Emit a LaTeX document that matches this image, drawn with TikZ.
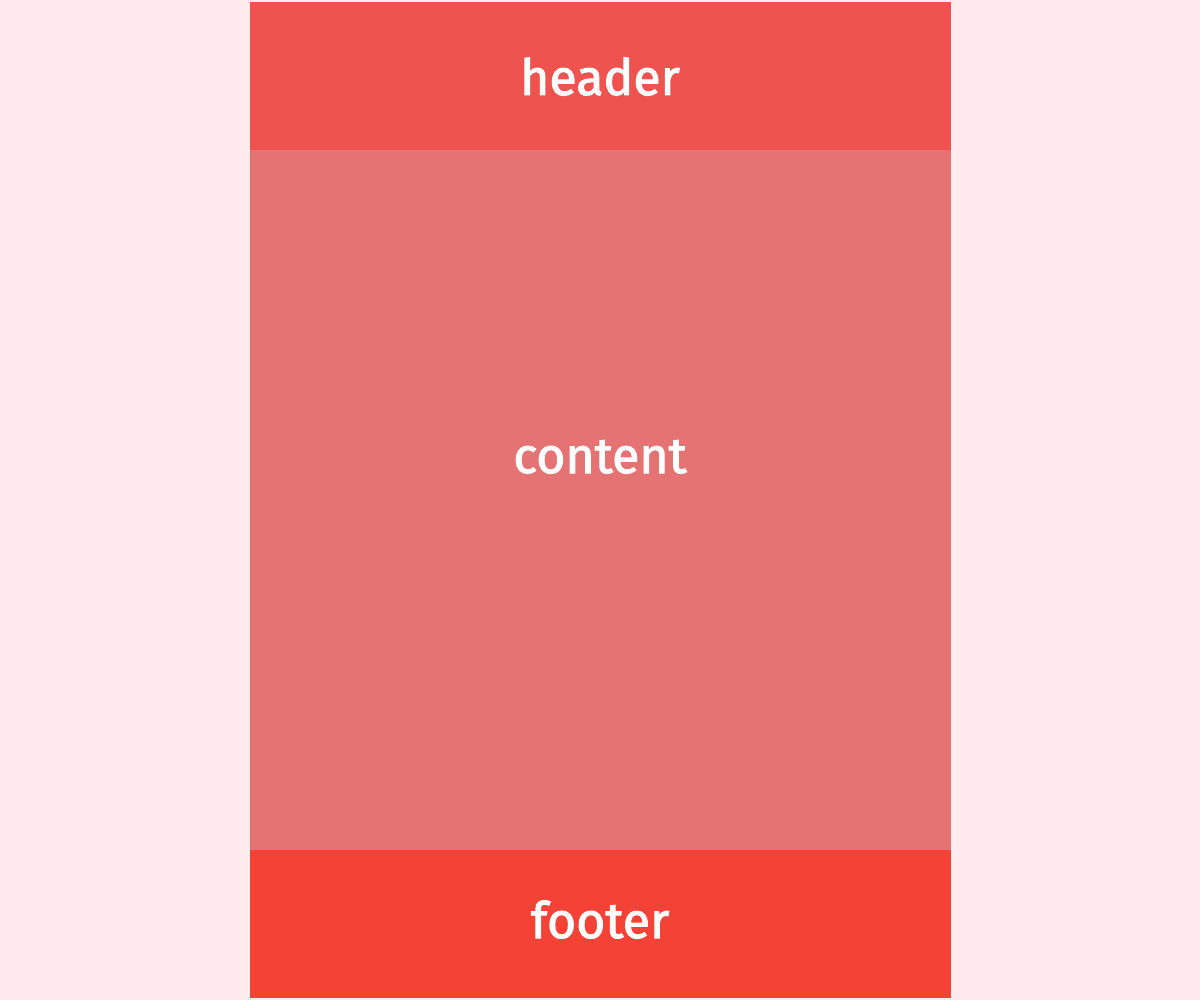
\documentclass[tikz,border=0pt]{standalone}
\usepackage{fontspec}
\setmainfont{Fira Sans}
\newfontfamily\bandfont[FakeBold=2]{Fira Sans}
\definecolor{pagebg}{HTML}{FFEBEE}
\definecolor{headred}{HTML}{EF5350}
\definecolor{mainred}{HTML}{E57373}
\definecolor{footred}{HTML}{F44336}
\begin{document}
\begin{tikzpicture}[x=1pt,y=-1pt,
  band/.style={inner sep=0pt, outer sep=0pt, minimum width=701pt, anchor=north west},
  caption/.style={inner sep=0pt, anchor=base, text=white,
    font=\bandfont\fontsize{50}{60}\selectfont}]
  \fill[pagebg] (0,0) rectangle (1200,1000);
  \useasboundingbox (0,0) rectangle (1200,1000);
  % three stacked bands
  \node[band, fill=headred, minimum height=148pt] (header) at (250,2) {};
  \node[band, fill=mainred, minimum height=700pt] (content) at (250,150) {};
  \node[band, fill=footred, minimum height=148pt] (footer) at (250,850) {};
  % band captions
  \node[caption] (headertext) at (600,95) {header};
  \node[caption] (contenttext) at (600,473) {content};
  \node[caption] (footertext) at (600,938) {footer};
\end{tikzpicture}
\end{document}
